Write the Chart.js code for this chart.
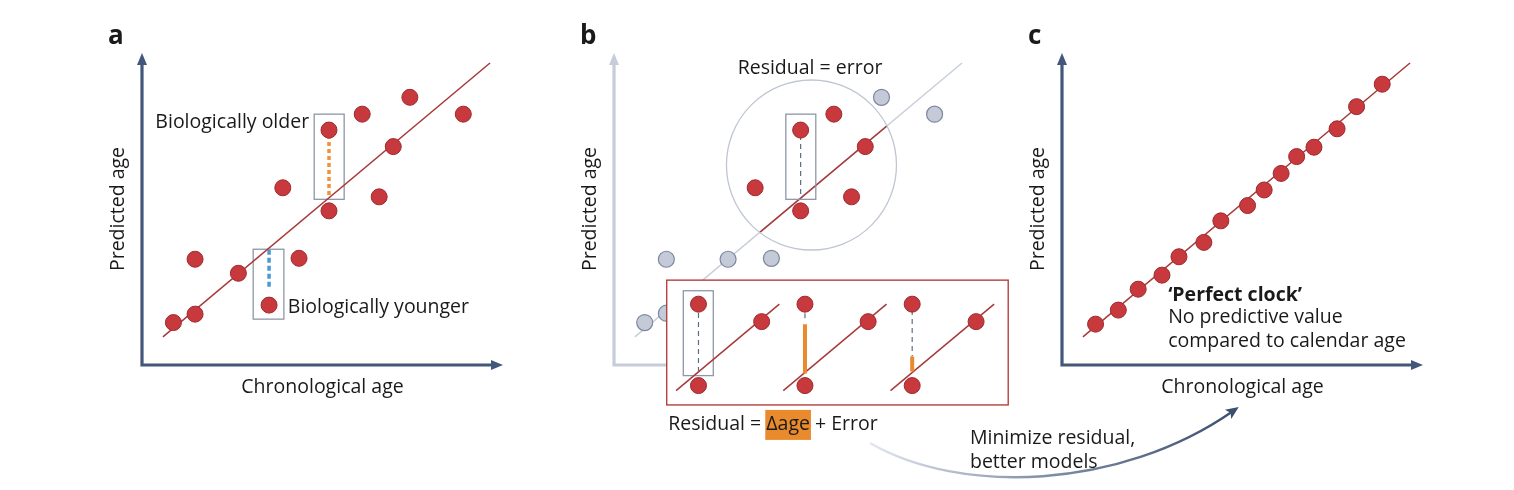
<!DOCTYPE html>
<html>
<head>
<meta charset="utf-8">
<script src="https://cdn.jsdelivr.net/npm/chart.js@4.4.1/dist/chart.umd.min.js"></script>
<style>
  html, body { margin: 0; padding: 0; background: #fff; }
  #wrap { position: relative; width: 1514px; height: 490px; overflow: hidden; }
  canvas { position: absolute; left: 0; top: 0; }
</style>
</head>
<body>
<div id="wrap">
  <canvas id="panelA" width="1514" height="490"></canvas>
  <canvas id="panelB" width="1514" height="490"></canvas>
  <canvas id="panelC" width="1514" height="490"></canvas>
</div>
<script>
// ages in arbitrary units, the drawn axes run 0..100
var fitX = [5.8, 96.4];
var fitY = [9.0, 96.8];

// a: individuals scattered around the fit
var chronoA = [8.7, 14.7, 14.7, 26.7, 35.2, 43.5, 39.0, 51.8, 51.8, 61.0, 65.7, 69.6, 74.2, 89.0];
var predA   = [13.6, 16.3, 33.9, 29.4, 19.2, 34.2, 56.8, 49.4, 75.3, 80.4, 53.9, 70.0, 85.8, 80.4];

// b: points outside / inside the circled region
var chronoBOut = [8.5, 14.5, 14.5, 31.6, 43.6, 74.1, 88.8];
var predBOut   = [13.6, 16.6, 33.9, 33.9, 34.2, 85.8, 80.4];
var chronoBIn  = [51.7, 60.9, 69.6, 39.1, 65.8, 51.7];
var predBIn    = [75.3, 80.4, 70.0, 56.8, 53.9, 49.4];

// b inset: three small fits, each with a high point, a low point and one on the line
var insetPairX  = [23.4, 52.9, 82.6];
var insetHighY  = [19.5, 19.5, 19.5];
var insetLowY   = [-6.6, -6.6, -6.6];
var insetOnX    = [40.9, 70.4, 100.3];
var insetOnY    = [13.9, 13.9, 13.9];
var insetLineX0 = [17.2, 46.9, 76.6];
var insetLineX1 = [45.8, 75.5, 105.3];
var insetLineY0 = [-8.2, -8.2, -8.2];
var insetLineY1 = [19.5, 19.5, 19.5];
var residTop    = [16.7, 16.6, 17.6];
var residBottom = [-2.6, 15.0, 2.7];
var deltaTop    = [null, 13.1, 2.7];
var deltaBottom = [null, -2.7, -2.1];

// c: perfect clock
var chronoC = [9.3, 15.6, 21.1, 27.7, 32.4, 39.3, 44.0, 51.4, 56.0, 60.7, 65.0, 69.8, 76.2, 81.6, 88.7];
var predC   = [13.1, 17.6, 24.3, 28.8, 34.7, 39.3, 46.2, 51.1, 56.1, 61.4, 66.8, 69.8, 75.7, 82.8, 90.0];

var FONT = '"Open Sans", sans-serif';
var FS = '19.5px ';
var INK = '#1a1a1a';
var RED = '#c8393e', RED_EDGE = '#9c2a2e', FIT_RED = '#a83a3b';
var AXIS_DARK = '#42577a', AXIS_LIGHT = '#c6ccd8';
var BOX_GREY = '#8e97a7', ORANGE = '#e98a2c';

// scale: px per unit, and where the axis origin sits on the page
var KX = 3.61, KY = 3.12, ORIGIN_Y = 365, TOP_PAD = 53;
var Y_MIN = -(490 - ORIGIN_Y) / KY, Y_MAX = (ORIGIN_Y - TOP_PAD) / KY;

function pts(xs, ys) {
  return xs.map(function (x, i) { return { x: x, y: ys[i] }; });
}
function px(chart, x, y) {
  return [chart.scales.x.getPixelForValue(x), chart.scales.y.getPixelForValue(y)];
}
function text(ctx, s, x, y, align, font) {
  ctx.font = font || (FS + FONT);
  ctx.fillStyle = INK;
  ctx.textAlign = align || 'left';
  ctx.textBaseline = 'middle';
  ctx.fillText(s, x, y);
}
function box(chart, x0, y0, x1, y1, color) {
  var a = px(chart, x0, y0), b = px(chart, x1, y1), ctx = chart.ctx;
  ctx.save();
  ctx.strokeStyle = color || BOX_GREY;
  ctx.lineWidth = 1.3;
  ctx.strokeRect(a[0], a[1], b[0] - a[0], b[1] - a[1]);
  ctx.restore();
}
function vline(chart, x, y0, y1, color, width, dash) {
  var a = px(chart, x, y0), b = px(chart, x, y1), ctx = chart.ctx;
  ctx.save();
  ctx.strokeStyle = color; ctx.lineWidth = width;
  ctx.setLineDash(dash || []);
  ctx.beginPath(); ctx.moveTo(a[0], a[1]); ctx.lineTo(b[0], b[1]); ctx.stroke();
  ctx.restore();
}

var dotRed = { pointRadius: 8, pointBackgroundColor: RED, pointBorderColor: RED_EDGE, pointBorderWidth: 1, showLine: false, clip: false };
var dotGrey = { pointRadius: 8, pointBackgroundColor: '#c4cad7', pointBorderColor: '#7e889d', pointBorderWidth: 1.2, showLine: false, clip: false };
function lineSet(data, color, width, extra) {
  var d = { data: data, showLine: true, pointRadius: 0, borderColor: color, borderWidth: width, clip: false };
  for (var k in extra) d[k] = extra[k];
  return d;
}
function dots(data, style, extra) {
  var d = { data: data };
  for (var k in style) d[k] = style[k];
  for (var k2 in extra) d[k2] = extra[k2];
  return d;
}

// axes with arrow heads, titles and the panel letter
var arrowAxes = {
  id: 'arrowAxes',
  beforeDatasetsDraw: function (chart, args, o) {
    var ctx = chart.ctx;
    var org = px(chart, 0, 0), top = px(chart, 0, 100)[1], right = px(chart, 100, 0)[0];
    var L = org[0], B = org[1];
    ctx.save();
    ctx.strokeStyle = o.color; ctx.fillStyle = o.color; ctx.lineWidth = 3.2;
    ctx.beginPath();
    ctx.moveTo(L, top + 9);
    ctx.lineTo(L, B);
    ctx.lineTo(right - 9, B);
    ctx.stroke();
    ctx.beginPath();
    ctx.moveTo(L, top); ctx.lineTo(L - 5, top + 12); ctx.lineTo(L + 5, top + 12);
    ctx.closePath(); ctx.fill();
    ctx.beginPath();
    ctx.moveTo(right, B); ctx.lineTo(right - 12, B - 5); ctx.lineTo(right - 12, B + 5);
    ctx.closePath(); ctx.fill();
    ctx.restore();
    if (o.xTitle) text(ctx, o.xTitle, (L + right) / 2, B + 22, 'center');
    ctx.save();
    ctx.translate(L - 24, (top + B) / 2);
    ctx.rotate(-Math.PI / 2);
    text(ctx, o.yTitle, 0, 0, 'center');
    ctx.restore();
    text(ctx, o.letter, L - 34, top - 16, 'left', 'bold 26px ' + FONT);
  }
};

// per-panel decorations
var decorate = {
  id: 'decorate',
  beforeDatasetsDraw: function (chart) {
    var id = chart.canvas.id, ctx = chart.ctx, p;
    if (id === 'panelA') {
      vline(chart, 51.8, 73.7, 53.8, '#f0923c', 3.5, [4, 3]);
      vline(chart, 35.2, 36.9, 25.0, '#4b98d3', 3.5, [5, 3]);
      box(chart, 47.7, 80.4, 56.0, 53.1);
      box(chart, 30.8, 37.1, 39.3, 14.7);
      p = px(chart, 46.3, 77.6); text(ctx, 'Biologically older', p[0], p[1], 'right');
      p = px(chart, 40.4, 18.3); text(ctx, 'Biologically younger', p[0], p[1], 'left');
    }
    if (id === 'panelC') {
      p = px(chart, 29.4, 22.4); text(ctx, '\u2018Perfect clock\u2019', p[0], p[1], 'left', 'bold ' + FS + FONT);
      p = px(chart, 29.4, 15.1); text(ctx, 'No predictive value', p[0], p[1], 'left');
      p = px(chart, 29.4, 7.5); text(ctx, 'compared to calendar age', p[0], p[1], 'left');
    }
    if (id === 'panelB') {
      p = px(chart, 54.3, 95.2); text(ctx, 'Residual = error', p[0], p[1], 'center');
    }
  },
  beforeDatasetDraw: function (chart, args) {
    var ds = chart.data.datasets[args.index], ctx = chart.ctx, c, a, b;
    if (ds.tag === 'greyDots') {
      // red part of the fit inside the circle, then the circle itself
      c = px(chart, 54.7, 64.1);
      a = px(chart, fitX[0], fitY[0]); b = px(chart, fitX[1], fitY[1]);
      ctx.save();
      ctx.beginPath(); ctx.arc(c[0], c[1], 85, 0, Math.PI * 2); ctx.clip();
      ctx.strokeStyle = FIT_RED; ctx.lineWidth = 1.6;
      ctx.beginPath(); ctx.moveTo(a[0], a[1]); ctx.lineTo(b[0], b[1]); ctx.stroke();
      ctx.restore();
      ctx.save();
      ctx.strokeStyle = '#bfc6d2'; ctx.lineWidth = 1.3;
      ctx.beginPath(); ctx.arc(c[0], c[1], 85, 0, Math.PI * 2); ctx.stroke();
      ctx.restore();
      box(chart, 47.6, 80.4, 55.9, 53.1);
      vline(chart, 51.7, 73.7, 53.8, '#5d6c84', 1.2, [5, 4]);
    }
    if (ds.tag === 'insetStart') {
      a = px(chart, 14.6, 27.2); b = px(chart, 109.2, -12.8);
      ctx.save();
      ctx.fillStyle = '#fff';
      ctx.fillRect(a[0], a[1], b[0] - a[0], b[1] - a[1]);
      ctx.strokeStyle = '#b5403f'; ctx.lineWidth = 1.4;
      ctx.strokeRect(a[0], a[1], b[0] - a[0], b[1] - a[1]);
      ctx.restore();
      box(chart, 19.2, 23.8, 27.5, -3.4);
    }
  },
  afterDatasetsDraw: function (chart) {
    if (chart.canvas.id !== 'panelB') return;
    var ctx = chart.ctx, p, w, font = FS + FONT;
    // residual equation with highlighted delta-age
    p = px(chart, 15.0, -19.2);
    ctx.font = font;
    var s1 = 'Residual = ', s2 = '\u0394age', s3 = ' + Error';
    var x = p[0];
    text(ctx, s1, x, p[1], 'left', font);
    x += ctx.measureText(s1).width;
    w = ctx.measureText(s2).width;
    ctx.fillStyle = ORANGE;
    ctx.fillRect(x - 1, p[1] - 15, w + 2, 30);
    text(ctx, s2, x, p[1], 'left', font);
    x += w;
    text(ctx, s3, x, p[1], 'left', font);

    p = px(chart, 98.6, -23.4); text(ctx, 'Minimize residual,', p[0], p[1], 'left');
    p = px(chart, 98.6, -31.1); text(ctx, 'better models', p[0], p[1], 'left');

    // curved arrow towards panel c
    var s = px(chart, 70.9, -25.0), c1 = px(chart, 95.8, -41.7), c2 = px(chart, 140.2, -40.1), e = px(chart, 172.6, -13.8);
    ctx.save();
    var g = ctx.createLinearGradient(s[0], 0, e[0], 0);
    g.addColorStop(0, '#e3e7ee'); g.addColorStop(0.45, '#8593aa'); g.addColorStop(1, '#3b4f6e');
    ctx.strokeStyle = g; ctx.lineWidth = 2.4;
    ctx.beginPath(); ctx.moveTo(s[0], s[1]);
    ctx.bezierCurveTo(c1[0], c1[1], c2[0], c2[1], e[0] - 4, e[1] + 3);
    ctx.stroke();
    var ang = Math.atan2(e[1] - c2[1], e[0] - c2[0]);
    ctx.fillStyle = '#3b4f6e';
    ctx.translate(e[0], e[1]); ctx.rotate(ang);
    ctx.beginPath(); ctx.moveTo(2, 0); ctx.lineTo(-11, -5.5); ctx.lineTo(-8, 0); ctx.lineTo(-11, 5.5); ctx.closePath(); ctx.fill();
    ctx.restore();
  }
};

// originX: page x of the axis origin; xMin/xMax: visible x range in data units
function options(originX, xMin, xMax, axes) {
  var left = originX + xMin * KX, right = originX + xMax * KX;
  return {
    responsive: false, animation: false, devicePixelRatio: 1, events: [],
    layout: { autoPadding: false, padding: { left: left, right: 1514 - right, top: TOP_PAD, bottom: 0 } },
    scales: {
      x: { type: 'linear', min: xMin, max: xMax, display: false },
      y: { type: 'linear', min: Y_MIN, max: Y_MAX, display: false }
    },
    plugins: { legend: { display: false }, tooltip: { enabled: false }, arrowAxes: axes }
  };
}

new Chart(document.getElementById('panelA'), {
  type: 'scatter',
  data: { datasets: [
    dots(pts(chronoA, predA), dotRed, { order: 1 }),
    lineSet(pts(fitX, fitY), FIT_RED, 1.5, { order: 2 })
  ] },
  options: options(142, -30, 130, { color: AXIS_DARK, xTitle: 'Chronological age', yTitle: 'Predicted age', letter: 'a' }),
  plugins: [arrowAxes, decorate]
});

var bSets = [
  lineSet(pts(fitX, fitY), '#c9ced8', 1.5, { order: 60 }),
  dots(pts(chronoBOut, predBOut), dotGrey, { order: 50, tag: 'greyDots' }),
  dots(pts(chronoBIn, predBIn), dotRed, { order: 45 })
];
insetPairX.forEach(function (x, i) {
  bSets.push(lineSet(pts([insetLineX0[i], insetLineX1[i]], [insetLineY0[i], insetLineY1[i]]), FIT_RED, 1.5,
    { order: 40 - i, tag: i === 0 ? 'insetStart' : '' }));
  bSets.push(lineSet(pts([x, x], [residTop[i], residBottom[i]]), '#5d6c84', 1.2, { order: 30, borderDash: [5, 4] }));
  if (deltaTop[i] !== null) {
    bSets.push(lineSet(pts([x, x], [deltaTop[i], deltaBottom[i]]), ORANGE, 4, { order: 25, borderCapStyle: 'butt' }));
  }
  bSets.push(dots(pts([x, x, insetOnX[i]], [insetHighY[i], insetLowY[i], insetOnY[i]]), dotRed, { order: 10 }));
});

new Chart(document.getElementById('panelB'), {
  type: 'scatter',
  data: { datasets: bSets },
  options: options(614, -30, 180, { color: AXIS_LIGHT, xTitle: '', yTitle: 'Predicted age', letter: 'b' }),
  plugins: [arrowAxes, decorate]
});

new Chart(document.getElementById('panelC'), {
  type: 'scatter',
  data: { datasets: [
    dots(pts(chronoC, predC), dotRed, { order: 1 }),
    lineSet(pts(fitX, fitY), FIT_RED, 1.5, { order: 2 })
  ] },
  options: options(1062, -30, 125, { color: AXIS_DARK, xTitle: 'Chronological age', yTitle: 'Predicted age', letter: 'c' }),
  plugins: [arrowAxes, decorate]
});
</script>
</body>
</html>
